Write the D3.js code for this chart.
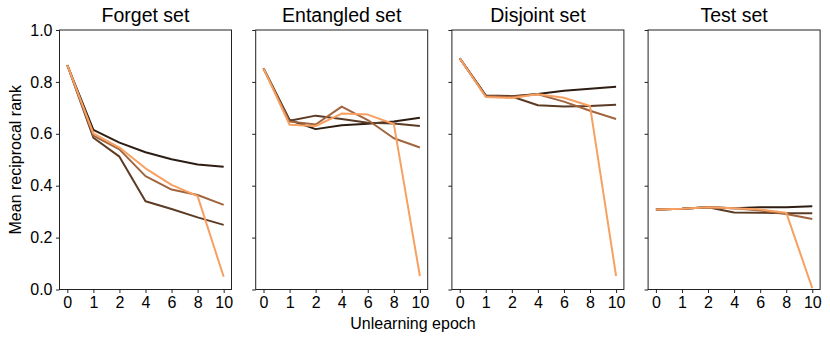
<!DOCTYPE html>
<html>
<head>
<meta charset="utf-8">
<script src="https://cdn.jsdelivr.net/npm/d3@7"></script>
<style>
  html, body { margin: 0; padding: 0; background: #fff; }
  svg { display: block; font-family: "Liberation Sans", Arial, sans-serif; }
</style>
</head>
<body>
<svg id="chart" width="830" height="341"></svg>
<script>
// ---- data ----
const epochs = ["0", "1", "2", "4", "6", "8", "10"];
const panelTitles = ["Forget set", "Entangled set", "Disjoint set", "Test set"];
const yTicks = [0.0, 0.2, 0.4, 0.6, 0.8, 1.0];

// four runs per panel, darkest to lightest
const forgetSet = [
  [0.865, 0.615, 0.566, 0.529, 0.502, 0.482, 0.473],
  [0.865, 0.585, 0.512, 0.340, 0.310, 0.278, 0.249],
  [0.865, 0.593, 0.540, 0.437, 0.385, 0.364, 0.326],
  [0.865, 0.602, 0.547, 0.467, 0.403, 0.360, 0.049]
];
const entangledSet = [
  [0.852, 0.653, 0.618, 0.633, 0.639, 0.647, 0.662],
  [0.852, 0.650, 0.670, 0.657, 0.643, 0.640, 0.630],
  [0.852, 0.647, 0.636, 0.705, 0.653, 0.583, 0.547],
  [0.852, 0.635, 0.630, 0.678, 0.674, 0.638, 0.052]
];
const disjointSet = [
  [0.891, 0.748, 0.745, 0.753, 0.766, 0.774, 0.781],
  [0.891, 0.745, 0.744, 0.710, 0.705, 0.707, 0.712],
  [0.891, 0.746, 0.743, 0.752, 0.724, 0.689, 0.657],
  [0.891, 0.742, 0.738, 0.752, 0.739, 0.707, 0.052]
];
const testSet = [
  [0.308, 0.311, 0.317, 0.313, 0.317, 0.317, 0.321],
  [0.308, 0.311, 0.317, 0.297, 0.296, 0.294, 0.294],
  [0.308, 0.311, 0.317, 0.313, 0.304, 0.291, 0.272],
  [0.308, 0.311, 0.317, 0.313, 0.308, 0.296, 0.005]
];
const panelData = [forgetSet, entangledSet, disjointSet, testSet];
const seriesColors = ["#2e1d12", "#5c3b25", "#a0653f", "#f7a062"];

// ---- layout ----
const svg = d3.select("#chart");
const plotTop = 30, plotBottom = 289.5;
const panelW = 172, gap = 24.2, firstLeft = 59.5;
const font = "Liberation Sans, Arial, sans-serif";

const y = d3.scaleLinear().domain([0, 1]).range([plotBottom, plotTop]);

panelData.forEach((series, p) => {
  const left = firstLeft + p * (panelW + gap);
  const x = d3.scaleLinear().domain([-0.3, epochs.length - 1 + 0.3]).range([0, panelW]);
  const g = svg.append("g").attr("transform", `translate(${left},0)`);

  // lines
  const line = d3.line().x((d, i) => x(i)).y(d => y(d));
  series.forEach((vals, s) => {
    g.append("path")
      .datum(vals)
      .attr("fill", "none")
      .attr("stroke", seriesColors[s])
      .attr("stroke-width", 2)
      .attr("stroke-linejoin", "round")
      .attr("d", line);
  });

  // frame
  g.append("rect")
    .attr("x", 0).attr("y", plotTop)
    .attr("width", panelW).attr("height", plotBottom - plotTop)
    .attr("fill", "none").attr("stroke", "#222").attr("stroke-width", 1);

  // x axis
  const xAxis = d3.axisBottom(x)
    .tickValues(d3.range(epochs.length))
    .tickFormat(i => epochs[i])
    .tickSize(3.5).tickPadding(3.5);
  const xg = g.append("g").attr("transform", `translate(0,${plotBottom})`).call(xAxis);
  xg.select(".domain").remove();
  xg.selectAll("line").attr("stroke", "#222");
  xg.selectAll("text").attr("font-size", 16).attr("font-family", font).attr("fill", "#000");

  // y axis
  const yAxis = d3.axisLeft(y)
    .tickValues(yTicks)
    .tickFormat(p === 0 ? d3.format(".1f") : () => "")
    .tickSize(3.5).tickPadding(3.5);
  const yg = g.append("g").call(yAxis);
  yg.select(".domain").remove();
  yg.selectAll("line").attr("stroke", "#222");
  yg.selectAll("text").attr("font-size", 16).attr("font-family", font).attr("fill", "#000");

  // title
  g.append("text")
    .attr("x", panelW / 2).attr("y", 22)
    .attr("text-anchor", "middle")
    .attr("font-size", 19.5).attr("font-family", font)
    .attr("fill", "#000")
    .text(panelTitles[p]);
});

// axis labels
svg.append("text")
  .attr("x", 413).attr("y", 329)
  .attr("text-anchor", "middle")
  .attr("font-size", 16).attr("font-family", font)
  .text("Unlearning epoch");

svg.append("text")
  .attr("transform", `translate(21,${(plotTop + plotBottom) / 2}) rotate(-90)`)
  .attr("text-anchor", "middle")
  .attr("font-size", 16).attr("font-family", font)
  .text("Mean reciprocal rank");
</script>
</body>
</html>
